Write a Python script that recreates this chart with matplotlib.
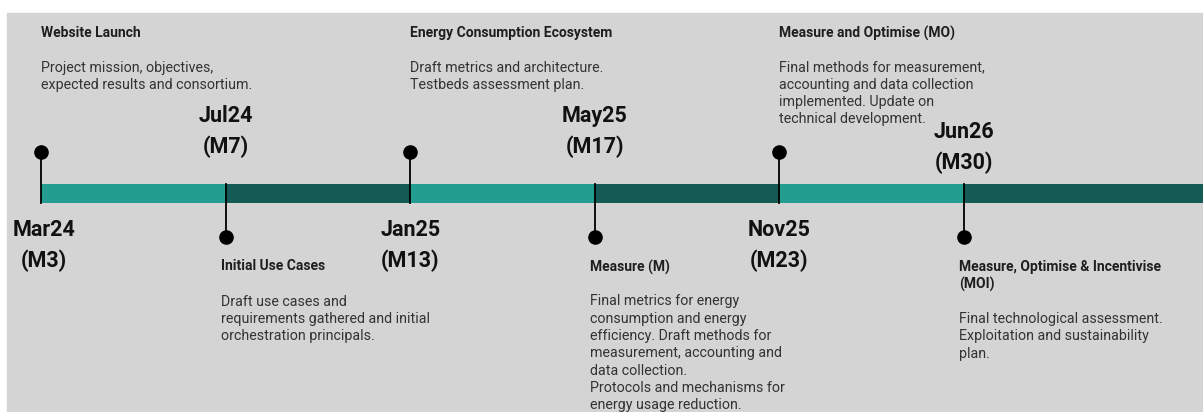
import matplotlib.pyplot as plt
from matplotlib.patches import Rectangle

plt.rcParams['font.family'] = ['Roboto', 'DejaVu Sans']

# milestone data
dates = ['Mar24', 'Jul24', 'Jan25', 'May25', 'Nov25', 'Jun26']
months = ['M3', 'M7', 'M13', 'M17', 'M23', 'M30']
titles = ['Website Launch',
          'Initial Use Cases',
          'Energy Consumption Ecosystem',
          'Measure (M)',
          'Measure and Optimise (MO)',
          'Measure, Optimise & Incentivise\n(MOI)']
descriptions = [
    'Project mission, objectives,\nexpected results and consortium.',
    'Draft use cases and\nrequirements gathered and initial\norchestration principals.',
    'Draft metrics and architecture.\nTestbeds assessment plan.',
    'Final metrics for energy\nconsumption and energy\nefficiency. Draft methods for\n'
    'measurement, accounting and\ndata collection.\nProtocols and mechanisms for\n'
    'energy usage reduction.',
    'Final methods for measurement,\naccounting and data collection\n'
    'implemented. Update on\ntechnical development.',
    'Final technological assessment.\nExploitation and sustainability\nplan.',
]
sides = ['top', 'bottom', 'top', 'bottom', 'top', 'bottom']

TEAL = '#239d8f'
DARK = '#155a55'
BG = '#d4d4d4'
PX = 184.6  # pixels per milestone step

fig = plt.figure(figsize=(12.03, 4.12), dpi=100)
fig.patch.set_facecolor('white')
ax = fig.add_axes([0, 0, 1, 1])
ax.set_facecolor('none')
ax.set_xlim(-41 / PX, (1203 - 41) / PX)
ax.set_ylim(412, 0)
ax.axis('off')
# grey panel (leaves a thin white margin top and left)
ax.add_patch(Rectangle((7 / 1203, 0), 1, (412 - 13) / 412,
                       transform=ax.transAxes, color=BG, zorder=0))

n = len(dates)
# bar segments, alternating colours; last one runs to the edge
for i in range(n):
    width = 1 if i < n - 1 else 2
    ax.barh(193.5, width, left=i, height=19, align='center',
            color=TEAL if i % 2 == 0 else DARK, zorder=1)

for i in range(n):
    top = sides[i] == 'top'
    dot_y = 152 if top else 237
    ax.plot([i, i], [dot_y, 203 if top else 184], color='black', lw=1.3, zorder=3)
    ax.plot(i, dot_y, 'o', color='black', ms=9.5, zorder=4)

    dx = 0 if top else -5 / PX
    title_y = 25.5 if top else 259.5
    ax.text(i + dx, title_y, titles[i], fontsize=10, fontweight='bold',
            color='#1e1e1e', va='top', ha='left', linespacing=1.3)
    nlines = titles[i].count('\n') + 1
    desc_y = title_y + 35 + 17.5 * (nlines - 1)
    ax.text(i + dx, desc_y, descriptions[i], fontsize=10.3, color='#333333',
            va='top', ha='left', linespacing=1.3)

    # date label on the opposite side of the bar
    if top:
        dy = 230
    elif i == n - 1:
        dy = 131.5
    else:
        dy = 116
    dxd = 3 / PX if i == 0 else 0
    ax.text(i + dxd, dy, dates[i], fontsize=15.5, fontweight='bold', color='#111111',
            ha='center', va='center')
    ax.text(i + dxd, dy + 31, f'({months[i]})', fontsize=15.5, fontweight='bold',
            color='#111111', ha='center', va='center')

fig.savefig('out.png', dpi=100)
